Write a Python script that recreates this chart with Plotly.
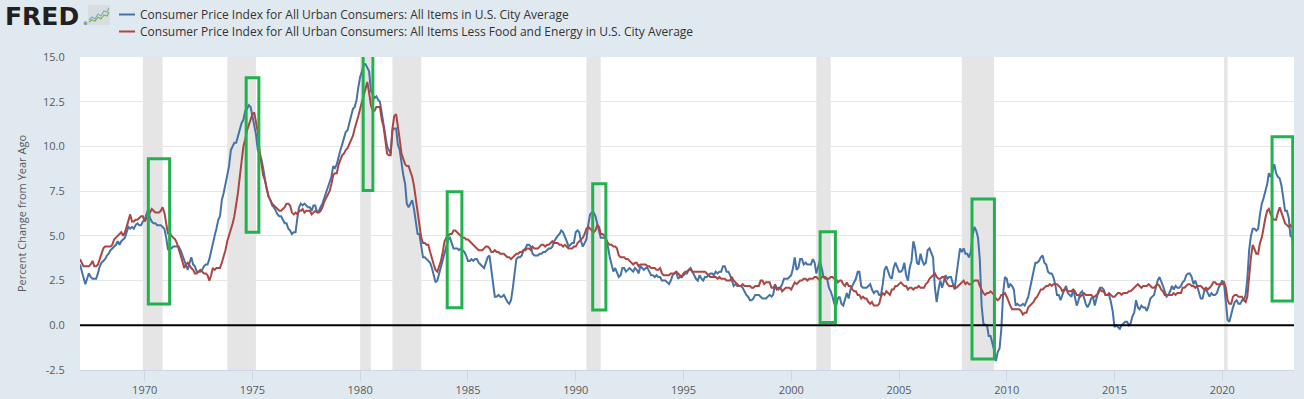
import pandas as pd
import plotly.graph_objects as go

# ---------------- data (monthly, % change from year ago) ----------------
start_month = "1967-01-01"

cpi_all = [
    # 1967
    3.4, 3.0, 2.6, 2.3, 2.6, 2.9, 2.7, 2.6, 2.6, 2.6, 2.9, 3.3,
    # 1968
    3.5, 3.6, 3.7, 3.9, 4.0, 4.2, 4.3, 4.4, 4.5, 4.7, 4.5, 4.7,
    # 1969
    4.8, 4.9, 5.2, 5.5, 5.4, 5.5, 5.4, 5.6, 5.7, 5.6, 5.6, 5.8,
    # 1970
    5.9, 6.2, 6.5, 6.0, 5.8, 5.7, 5.7, 5.6, 5.6, 5.6, 5.5, 5.4,
    # 1971
    4.9, 4.2, 4.4, 4.3, 4.4, 4.4, 4.4, 4.4, 4.2, 3.9, 3.6, 3.4,
    # 1972
    3.1, 3.5, 3.8, 3.4, 3.3, 3.0, 3.0, 3.0, 3.1, 3.3, 3.4, 3.4,
    # 1973
    3.7, 4.2, 4.7, 5.0, 5.4, 5.9, 6.1, 7.0, 7.4, 7.9, 8.3, 8.9,
    # 1974
    9.8, 10.0, 10.2, 10.2, 10.6, 11.0, 11.3, 11.5, 12.0, 12.1, 12.3, 12.2,
    # 1975
    11.7, 11.2, 10.7, 9.8, 9.5, 9.3, 8.8, 8.1, 7.6, 7.2, 7.0, 6.7,
    # 1976
    6.6, 6.4, 6.2, 6.1, 6.1, 5.9, 5.7, 5.7, 5.4, 5.3, 5.1, 5.2,
    # 1977
    5.2, 6.0, 6.6, 6.8, 6.7, 6.8, 6.7, 6.6, 6.6, 6.4, 6.7, 6.7,
    # 1978
    6.3, 6.4, 6.6, 6.8, 7.1, 7.4, 7.7, 7.9, 8.3, 8.9, 8.8, 9.0,
    # 1979
    9.5, 9.8, 10.1, 10.5, 10.8, 10.9, 11.3, 11.8, 12.1, 12.2, 12.6, 13.3,
    # 1980
    13.9, 14.2, 14.6, 14.6, 14.4, 14.2, 13.1, 12.9, 12.7, 12.8, 12.6, 12.5,
    # 1981
    11.8, 11.3, 10.6, 10.0, 9.8, 9.6, 10.9, 11.0, 11.0, 10.1, 9.8, 9.0,
    # 1982
    8.4, 7.9, 6.8, 6.6, 6.8, 7.0, 6.5, 5.9, 5.1, 5.1, 4.5, 3.8,
    # 1983
    3.8, 3.7, 3.6, 3.5, 3.2, 2.7, 2.4, 2.5, 2.9, 3.3, 3.6, 4.1,
    # 1984
    4.4, 4.8, 4.9, 4.6, 4.3, 4.3, 4.3, 4.2, 4.3, 4.2, 4.1, 3.9,
    # 1985
    3.6, 3.6, 3.7, 3.6, 3.7, 3.7, 3.5, 3.4, 3.3, 3.2, 3.5, 3.8,
    # 1986
    3.9, 3.1, 2.2, 1.6, 1.6, 1.7, 1.6, 1.6, 1.7, 1.5, 1.3, 1.2,
    # 1987
    1.4, 2.1, 3.0, 3.7, 3.8, 3.8, 3.9, 4.2, 4.3, 4.5, 4.5, 4.4,
    # 1988
    4.0, 3.9, 3.9, 3.9, 4.0, 4.0, 4.1, 4.1, 4.2, 4.3, 4.3, 4.4,
    # 1989
    4.7, 4.9, 5.0, 5.1, 5.3, 5.2, 5.0, 4.7, 4.4, 4.5, 4.6, 4.6,
    # 1990
    5.2, 5.3, 5.2, 4.7, 4.4, 4.6, 4.8, 5.6, 6.2, 6.3, 6.3, 6.1,
    # 1991
    5.7, 5.2, 4.9, 4.9, 4.9, 4.8, 4.4, 3.8, 3.3, 3.0, 3.2, 3.0,
    # 1992
    2.7, 2.8, 3.2, 3.2, 3.0, 3.1, 3.2, 3.1, 3.0, 3.2, 3.1, 2.9,
    # 1993
    3.3, 3.2, 3.1, 3.2, 3.2, 3.0, 2.8, 2.8, 2.7, 2.8, 2.7, 2.7,
    # 1994
    2.5, 2.5, 2.5, 2.4, 2.3, 2.5, 2.8, 2.9, 3.0, 2.6, 2.7, 2.7,
    # 1995
    2.8, 2.9, 2.9, 3.1, 3.2, 3.0, 2.8, 2.6, 2.5, 2.8, 2.6, 2.5,
    # 1996
    2.7, 2.7, 2.8, 2.9, 2.9, 2.8, 3.0, 2.9, 3.0, 3.0, 3.3, 3.3,
    # 1997
    3.0, 3.0, 2.8, 2.5, 2.2, 2.3, 2.2, 2.2, 2.2, 2.1, 1.9, 1.7,
    # 1998
    1.6, 1.4, 1.4, 1.5, 1.7, 1.7, 1.7, 1.6, 1.5, 1.5, 1.5, 1.6,
    # 1999
    1.7, 1.6, 1.7, 2.3, 2.1, 2.0, 2.1, 2.3, 2.6, 2.6, 2.6, 2.7,
    # 2000
    2.8, 3.2, 3.8, 3.1, 3.2, 3.7, 3.7, 3.4, 3.5, 3.4, 3.4, 3.4,
    # 2001
    3.7, 3.5, 2.9, 3.3, 3.6, 3.2, 2.7, 2.7, 2.6, 2.1, 1.9, 1.6,
    # 2002
    1.2, 1.1, 1.5, 1.6, 1.2, 1.1, 1.5, 1.8, 1.5, 2.0, 2.2, 2.4,
    # 2003
    2.6, 3.0, 3.0, 2.2, 2.1, 2.1, 2.1, 2.2, 2.3, 2.0, 1.8, 1.9,
    # 2004
    1.9, 1.7, 1.7, 2.3, 3.1, 3.3, 3.0, 2.7, 2.6, 3.2, 3.5, 3.3,
    # 2005
    3.0, 3.0, 3.1, 3.5, 2.8, 2.5, 3.2, 3.6, 4.7, 4.3, 3.5, 3.4,
    # 2006
    4.0, 3.6, 3.4, 3.5, 4.2, 4.3, 4.1, 3.8, 2.1, 1.3, 2.0, 2.5,
    # 2007
    2.1, 2.4, 2.8, 2.6, 2.7, 2.7, 2.4, 2.0, 2.8, 3.5, 4.3, 4.1,
    # 2008
    4.3, 4.0, 4.0, 3.8, 4.1, 5.0, 5.5, 5.3, 4.9, 3.7, 1.1, 0.1,
    # 2009
    0.0, 0.0, -0.6, -0.6, -1.0, -1.4, -2.0, -1.5, -1.3, -0.2, 1.8, 2.7,
    # 2010
    2.6, 2.1, 2.3, 2.2, 2.0, 1.1, 1.2, 1.1, 1.1, 1.2, 1.1, 1.4,
    # 2011
    1.6, 2.1, 2.6, 3.1, 3.5, 3.5, 3.6, 3.8, 3.9, 3.5, 3.4, 3.0,
    # 2012
    2.9, 2.9, 2.7, 2.3, 1.7, 1.7, 1.4, 1.7, 2.0, 2.2, 1.8, 1.7,
    # 2013
    1.6, 2.0, 1.5, 1.1, 1.4, 1.8, 1.9, 1.5, 1.2, 1.0, 1.2, 1.5,
    # 2014
    1.6, 1.1, 1.5, 1.9, 2.1, 2.1, 2.0, 1.7, 1.7, 1.7, 1.3, 0.8,
    # 2015
    -0.1, 0.0, -0.1, -0.2, 0.0, 0.1, 0.2, 0.2, 0.0, 0.1, 0.5, 0.7,
    # 2016
    1.4, 1.0, 0.9, 1.1, 1.0, 1.0, 0.8, 1.1, 1.5, 1.6, 1.7, 2.1,
    # 2017
    2.5, 2.7, 2.4, 2.2, 1.9, 1.6, 1.7, 1.9, 2.2, 2.0, 2.2, 2.1,
    # 2018
    2.1, 2.2, 2.4, 2.5, 2.8, 2.9, 2.9, 2.7, 2.3, 2.5, 2.2, 1.9,
    # 2019
    1.5, 1.5, 1.9, 2.0, 1.8, 1.6, 1.8, 1.7, 1.7, 1.8, 2.1, 2.3,
    # 2020
    2.5, 2.3, 1.5, 0.3, 0.2, 0.7, 1.0, 1.3, 1.4, 1.2, 1.2, 1.4,
    # 2021
    1.4, 1.7, 2.6, 4.2, 5.0, 5.4, 5.4, 5.3, 5.4, 6.2, 6.8, 7.1,
    # 2022
    7.5, 7.9, 8.5, 8.3, 8.6, 9.0, 8.5, 8.3, 8.2, 7.8, 7.1, 6.4,
    # 2023
    6.4, 6.0, 5.0, 4.9, 4.1,
]

cpi_core = [
    # 1967
    3.7, 3.5, 3.3, 3.3, 3.3, 3.3, 3.4, 3.6, 3.3, 3.3, 3.4, 3.7,
    # 1968
    3.9, 4.3, 4.4, 4.4, 4.4, 4.4, 4.5, 4.8, 4.9, 5.0, 5.1, 5.2,
    # 1969
    5.0, 5.2, 5.5, 5.9, 6.2, 5.8, 5.8, 5.9, 5.9, 6.0, 6.1, 6.1,
    # 1970
    5.8, 6.0, 6.1, 6.3, 6.5, 6.4, 6.3, 6.3, 6.3, 6.4, 6.6, 6.3,
    # 1971
    5.6, 5.1, 5.2, 5.0, 4.9, 4.8, 4.6, 4.3, 4.0, 3.6, 3.2, 3.4,
    # 1972
    3.5, 3.3, 3.2, 3.1, 2.9, 2.9, 3.0, 3.1, 3.0, 2.9, 2.9, 2.8,
    # 1973
    2.5, 2.8, 3.2, 3.1, 3.2, 3.2, 3.2, 3.5, 3.8, 4.2, 4.7, 5.0,
    # 1974
    5.3, 5.7, 6.1, 6.7, 7.4, 8.3, 9.1, 10.0, 10.4, 10.9, 11.2, 11.5,
    # 1975
    11.8, 11.9, 11.3, 10.8, 9.8, 9.2, 8.4, 8.1, 7.6, 7.2, 7.0, 6.8,
    # 1976
    6.7, 6.6, 6.5, 6.4, 6.4, 6.5, 6.6, 6.8, 6.8, 6.7, 6.3, 6.2,
    # 1977
    6.3, 6.2, 6.4, 6.4, 6.5, 6.3, 6.4, 6.4, 6.4, 6.2, 6.3, 6.4,
    # 1978
    6.3, 6.3, 6.4, 6.6, 6.9, 7.1, 7.3, 7.5, 7.9, 8.4, 8.5, 8.5,
    # 1979
    9.0, 9.3, 9.5, 9.6, 9.8, 9.9, 10.1, 10.4, 10.6, 11.0, 11.3, 11.7,
    # 1980
    12.1, 12.5, 12.8, 13.2, 13.6, 13.0, 12.3, 12.0, 12.0, 12.2, 12.2, 12.2,
    # 1981
    11.5, 11.1, 10.4, 9.6, 9.5, 9.5, 11.0, 11.7, 11.8, 11.2, 10.4, 9.6,
    # 1982
    9.3, 9.0, 8.9, 8.9, 8.6, 8.3, 7.8, 7.0, 6.2, 5.6, 4.9, 4.6,
    # 1983
    4.6, 4.5, 4.5, 4.1, 3.7, 3.4, 3.1, 3.0, 3.3, 3.6, 4.1, 4.7,
    # 1984
    4.9, 5.0, 5.1, 5.1, 5.3, 5.3, 5.2, 5.1, 5.0, 4.9, 4.9, 4.8,
    # 1985
    4.8, 4.7, 4.6, 4.5, 4.4, 4.3, 4.2, 4.2, 4.2, 4.3, 4.4, 4.4,
    # 1986
    4.3, 4.1, 4.1, 4.2, 4.1, 4.1, 4.0, 4.0, 4.0, 3.9, 3.8, 3.8,
    # 1987
    3.7, 3.8, 3.9, 4.0, 4.0, 4.1, 4.1, 4.2, 4.2, 4.3, 4.3, 4.2,
    # 1988
    4.4, 4.3, 4.3, 4.3, 4.4, 4.5, 4.5, 4.4, 4.5, 4.5, 4.6, 4.7,
    # 1989
    4.6, 4.6, 4.6, 4.5, 4.5, 4.4, 4.5, 4.4, 4.3, 4.3, 4.3, 4.4,
    # 1990
    4.4, 4.6, 4.7, 4.8, 4.9, 5.1, 5.4, 5.5, 5.4, 5.3, 5.2, 5.3,
    # 1991
    5.6, 5.5, 5.1, 5.1, 5.0, 4.8, 4.6, 4.5, 4.5, 4.4, 4.4, 4.3,
    # 1992
    3.9, 3.8, 3.8, 3.8, 3.7, 3.7, 3.6, 3.5, 3.4, 3.5, 3.5, 3.3,
    # 1993
    3.4, 3.4, 3.4, 3.4, 3.3, 3.3, 3.2, 3.2, 3.2, 3.1, 3.1, 3.2,
    # 1994
    2.9, 2.8, 2.8, 2.8, 2.8, 2.9, 2.9, 2.9, 3.0, 2.9, 2.8, 2.7,
    # 1995
    2.9, 3.0, 3.0, 3.1, 3.1, 3.0, 3.0, 3.0, 3.0, 3.0, 3.0, 3.0,
    # 1996
    3.0, 2.9, 2.8, 2.7, 2.7, 2.7, 2.7, 2.6, 2.7, 2.6, 2.6, 2.6,
    # 1997
    2.5, 2.5, 2.5, 2.7, 2.5, 2.4, 2.3, 2.2, 2.2, 2.3, 2.2, 2.2,
    # 1998
    2.2, 2.2, 2.1, 2.1, 2.2, 2.2, 2.2, 2.5, 2.5, 2.3, 2.4, 2.4,
    # 1999
    2.4, 2.1, 2.1, 2.2, 2.0, 2.1, 2.1, 1.9, 2.0, 2.1, 2.1, 2.1,
    # 2000
    2.0, 2.2, 2.4, 2.3, 2.4, 2.5, 2.5, 2.6, 2.6, 2.5, 2.6, 2.6,
    # 2001
    2.6, 2.7, 2.7, 2.6, 2.5, 2.7, 2.7, 2.6, 2.6, 2.6, 2.7, 2.7,
    # 2002
    2.6, 2.6, 2.4, 2.5, 2.5, 2.3, 2.2, 2.4, 2.2, 2.2, 2.0, 1.9,
    # 2003
    1.9, 1.7, 1.7, 1.5, 1.6, 1.5, 1.5, 1.3, 1.2, 1.3, 1.1, 1.1,
    # 2004
    1.1, 1.2, 1.6, 1.8, 1.7, 1.9, 1.8, 1.7, 2.0, 2.0, 2.2, 2.2,
    # 2005
    2.3, 2.4, 2.3, 2.2, 2.2, 2.0, 2.1, 2.1, 2.0, 2.1, 2.1, 2.2,
    # 2006
    2.1, 2.1, 2.1, 2.3, 2.4, 2.6, 2.7, 2.8, 2.9, 2.7, 2.6, 2.6,
    # 2007
    2.7, 2.7, 2.5, 2.3, 2.2, 2.2, 2.2, 2.1, 2.1, 2.2, 2.3, 2.4,
    # 2008
    2.5, 2.3, 2.4, 2.3, 2.3, 2.4, 2.5, 2.5, 2.5, 2.2, 2.0, 1.8,
    # 2009
    1.7, 1.8, 1.8, 1.9, 1.8, 1.7, 1.5, 1.4, 1.5, 1.7, 1.7, 1.8,
    # 2010
    1.6, 1.3, 1.1, 0.9, 0.9, 0.9, 0.9, 0.9, 0.8, 0.6, 0.7, 0.7,
    # 2011
    1.0, 1.1, 1.2, 1.3, 1.5, 1.6, 1.8, 2.0, 2.0, 2.1, 2.2, 2.2,
    # 2012
    2.3, 2.2, 2.3, 2.3, 2.3, 2.2, 2.1, 1.9, 2.0, 2.0, 1.9, 1.9,
    # 2013
    1.9, 2.0, 1.9, 1.7, 1.7, 1.6, 1.7, 1.8, 1.7, 1.7, 1.7, 1.7,
    # 2014
    1.6, 1.6, 1.7, 1.8, 2.0, 1.9, 1.9, 1.7, 1.7, 1.8, 1.7, 1.6,
    # 2015
    1.6, 1.7, 1.8, 1.8, 1.7, 1.8, 1.8, 1.8, 1.9, 1.9, 2.0, 2.1,
    # 2016
    2.2, 2.3, 2.2, 2.1, 2.2, 2.2, 2.2, 2.3, 2.2, 2.1, 2.1, 2.2,
    # 2017
    2.3, 2.2, 2.0, 1.9, 1.7, 1.7, 1.7, 1.7, 1.7, 1.8, 1.7, 1.8,
    # 2018
    1.8, 1.8, 2.1, 2.1, 2.2, 2.3, 2.3, 2.2, 2.2, 2.1, 2.2, 2.2,
    # 2019
    2.2, 2.1, 2.0, 2.1, 2.0, 2.1, 2.2, 2.4, 2.4, 2.3, 2.3, 2.3,
    # 2020
    2.3, 2.4, 2.1, 1.4, 1.2, 1.2, 1.6, 1.7, 1.7, 1.6, 1.6, 1.6,
    # 2021
    1.4, 1.3, 1.6, 3.0, 3.8, 4.5, 4.3, 4.0, 4.0, 4.6, 4.9, 5.5,
    # 2022
    6.0, 6.4, 6.5, 6.2, 6.0, 5.9, 5.9, 6.3, 6.6, 6.3, 6.0, 5.7,
    # 2023
    5.6, 5.5, 5.6, 5.5, 5.3,
]

series_names = [
    "Consumer Price Index for All Urban Consumers: All Items in U.S. City Average",
    "Consumer Price Index for All Urban Consumers: All Items Less Food and Energy in U.S. City Average",
]

recession_starts = ["1969-12-01", "1973-11-01", "1980-01-01", "1981-07-01",
                    "1990-07-01", "2001-03-01", "2007-12-01", "2020-02-01"]
recession_ends = ["1970-11-01", "1975-03-01", "1980-07-01", "1982-11-01",
                  "1991-03-01", "2001-11-01", "2009-06-01", "2020-04-01"]

# highlight boxes: (start year, end year, top value, bottom value)
box_x0 = [1970.17, 1974.71, 1980.14, 1984.04, 1990.79, 2001.34, 2008.39, 2022.31]
box_x1 = [1971.16, 1975.30, 1980.59, 1984.72, 1991.40, 2002.05, 2009.43, 2023.27]
box_y0 = [9.31, 13.84, 15.24, 7.47, 7.92, 5.23, 7.06, 10.54]
box_y1 = [1.19, 5.20, 7.53, 0.98, 0.86, 0.15, -1.88, 1.36]

y_ticks = [-2.5, 0.0, 2.5, 5.0, 7.5, 10.0, 12.5, 15.0]
x_tick_years = [1970, 1975, 1980, 1985, 1990, 1995, 2000, 2005, 2010, 2015, 2020]

# ---------------- figure ----------------
dates = pd.date_range(start_month, periods=len(cpi_all), freq="MS")
dates_core = pd.date_range(start_month, periods=len(cpi_core), freq="MS")

BLUE = "#4572a7"
RED = "#aa4643"
GREEN = "#22b14c"
BG = "#e1e9f0"
FONT = "Open Sans, Arial, sans-serif"

W, H = 1304, 399
ML, MR, MT, MB = 80, 10, 57, 29
PW, PH = W - ML - MR, H - MT - MB


def px_x(px):
    return (px - ML) / PW


def px_y(py):
    return (H - MB - py) / PH


def yearfrac_to_date(yf):
    y = int(yf)
    base = pd.Timestamp(year=y, month=1, day=1)
    nxt = pd.Timestamp(year=y + 1, month=1, day=1)
    return (base + (nxt - base) * (yf - y)).strftime("%Y-%m-%d")


fig = go.Figure()
fig.add_trace(go.Scatter(x=dates, y=cpi_all, mode="lines", name=series_names[0],
                         line=dict(color=BLUE, width=2), showlegend=False))
fig.add_trace(go.Scatter(x=dates_core, y=cpi_core, mode="lines", name=series_names[1],
                         line=dict(color=RED, width=2), showlegend=False))

shapes = []
for s, e in zip(recession_starts, recession_ends):
    shapes.append(dict(type="rect", xref="x", yref="paper", x0=s, x1=e, y0=0, y1=1,
                       fillcolor="#e5e5e5", line=dict(width=0), layer="below"))
# zero line
shapes.append(dict(type="line", xref="paper", yref="y", x0=0, x1=1, y0=0, y1=0,
                   line=dict(color="black", width=2), layer="above"))
# highlight boxes
for a, b, c, d in zip(box_x0, box_x1, box_y0, box_y1):
    shapes.append(dict(type="rect", xref="x", yref="y",
                       x0=yearfrac_to_date(a), x1=yearfrac_to_date(b), y0=d, y1=c,
                       line=dict(color=GREEN, width=3), fillcolor="rgba(0,0,0,0)",
                       layer="above"))

# legend (manual)
legend_y = [14.5, 31.5]
legend_col = [BLUE, RED]
annotations = []
for ly, col, name in zip(legend_y, legend_col, series_names):
    shapes.append(dict(type="line", xref="paper", yref="paper",
                       x0=px_x(119), x1=px_x(135), y0=px_y(ly), y1=px_y(ly),
                       line=dict(color=col, width=2)))
    annotations.append(dict(xref="paper", yref="paper", x=px_x(138), y=px_y(ly),
                            xanchor="left", yanchor="middle", showarrow=False,
                            text=name, font=dict(family=FONT, size=12, color="#333333")))

# FRED logo
annotations.append(dict(xref="paper", yref="paper", x=px_x(3), y=px_y(16.5),
                        xanchor="left", yanchor="middle", showarrow=False,
                        text="<b>FRED</b>",
                        font=dict(family="DejaVu Sans, Arial, sans-serif", size=25,
                                  color="#231f20")))
annotations.append(dict(xref="paper", yref="paper", x=px_x(81), y=px_y(23),
                        xanchor="left", yanchor="middle", showarrow=False,
                        text="®", font=dict(family="DejaVu Sans", size=5, color="#231f20")))
shapes.append(dict(type="rect", xref="paper", yref="paper",
                   x0=px_x(88), x1=px_x(110), y0=px_y(25), y1=px_y(5),
                   fillcolor="#d8dde2", line=dict(width=0)))
logo_pts = [(89, 20), (92, 17), (95, 19), (98, 14), (101, 16), (104, 11), (107, 12), (109, 8)]
path = "M " + " L ".join(f"{px_x(a)},{px_y(b)}" for a, b in logo_pts)
shapes.append(dict(type="path", xref="paper", yref="paper", path=path,
                   line=dict(color="#8aa6c4", width=1.2)))
logo_pts2 = [(89, 22), (92, 20), (95, 21), (98, 17), (101, 19), (104, 15), (107, 16), (109, 12)]
path2 = "M " + " L ".join(f"{px_x(a)},{px_y(b)}" for a, b in logo_pts2)
shapes.append(dict(type="path", xref="paper", yref="paper", path=path2,
                   line=dict(color="#7ab648", width=1.2)))

fig.update_layout(
    width=W, height=H,
    margin=dict(l=ML, r=MR, t=MT, b=MB, pad=0, autoexpand=False),
    paper_bgcolor=BG,
    plot_bgcolor="#ffffff",
    font=dict(family=FONT, size=11, color="#595959"),
    shapes=shapes,
    annotations=annotations,
    showlegend=False,
    xaxis=dict(
        type="date",
        range=["1967-01-01", "2023-05-01"],
        tickvals=[f"{y}-01-01" for y in x_tick_years],
        ticktext=[str(y) for y in x_tick_years],
        ticks="outside", ticklen=10, tickcolor="#ccd6eb", tickwidth=1,
        showline=True, linecolor="#ccd6eb", linewidth=1,
        showgrid=False, zeroline=False, automargin=False,
        tickfont=dict(family=FONT, size=11, color="#595959"),
    ),
    yaxis=dict(
        range=[-2.5, 15],
        tickvals=y_ticks,
        ticktext=[f"{v:.1f}" for v in y_ticks],
        showgrid=True, gridcolor="#e6e6e6", gridwidth=1,
        zeroline=False, showline=False, automargin=False,
        ticks="outside", ticklen=12, tickcolor="rgba(0,0,0,0)",
        tickfont=dict(family=FONT, size=11, color="#595959"),
        title=dict(text="Percent Change from Year Ago",
                   font=dict(family=FONT, size=11, color="#595959"), standoff=14),
    ),
)

fig.write_html(
    "out.html",
    config={"displayModeBar": False},
    post_script=f"document.body.style.margin='0px';document.body.style.background='{BG}';",
)
